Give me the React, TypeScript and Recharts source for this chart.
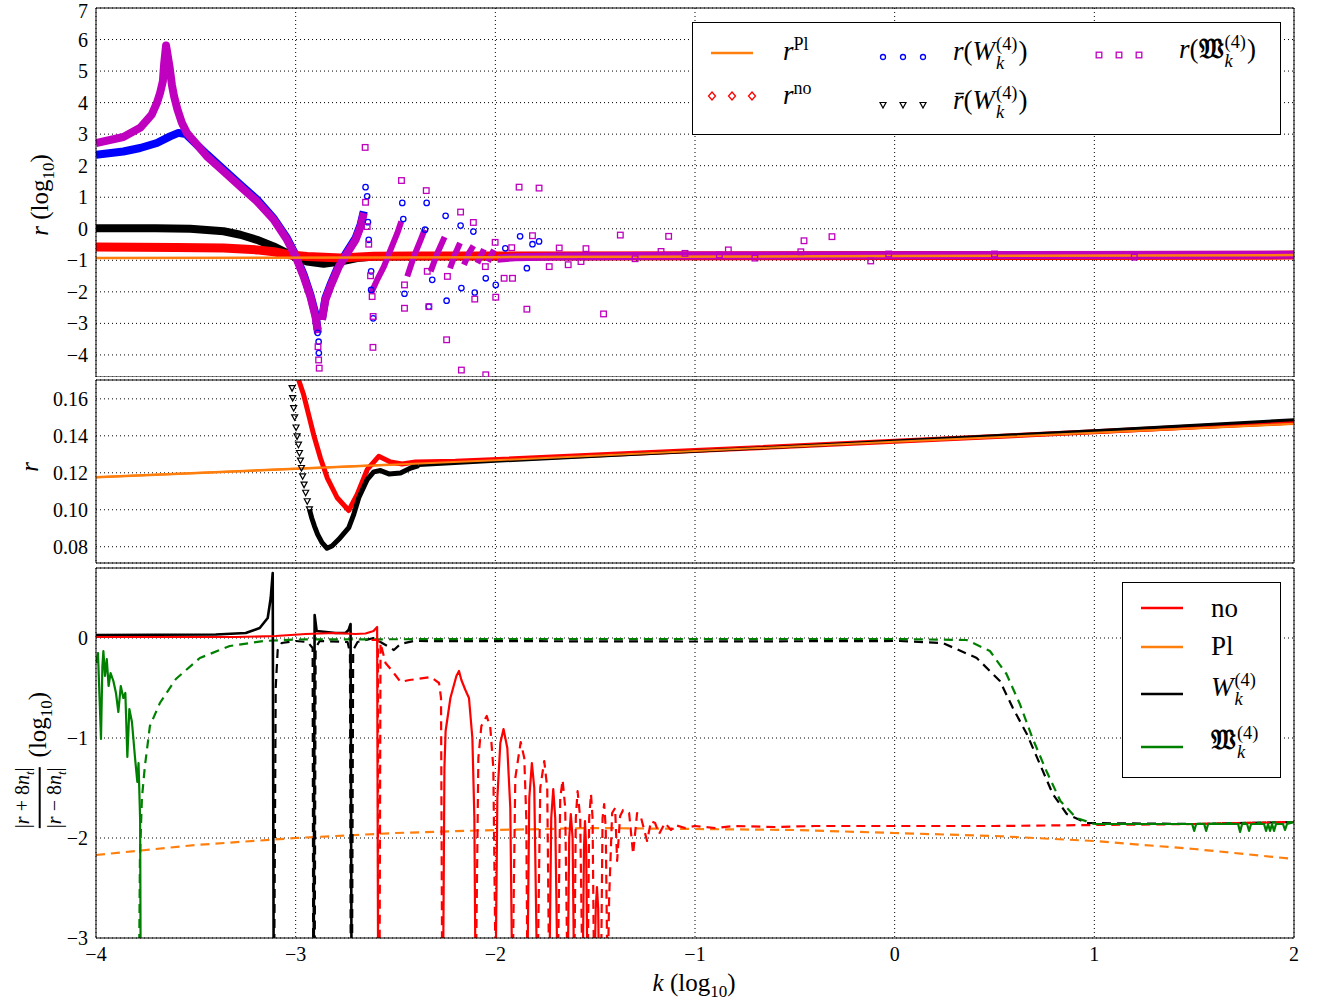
import React from 'react';
import { ComposedChart, Line, Scatter, XAxis, YAxis, CartesianGrid } from 'recharts';

type P = [number, number | null];

// axes
const X_DOMAIN: [number, number] = [-4, 2];
const X_MAJOR = [-4, -3, -2, -1, 0, 1, 2];
const DECADES = [-4, -3, -2, -1, 0, 1];
const LOG_STEPS = [0.301, 0.477, 0.602, 0.699, 0.778, 0.845, 0.903, 0.954];
const X_MINOR = DECADES.flatMap((d) => LOG_STEPS.map((s) => d + s));

const Y1_TICKS = [-4, -3, -2, -1, 0, 1, 2, 3, 4, 5, 6, 7];
const Y2_TICKS = [0.08, 0.1, 0.12, 0.14, 0.16];
const Y3_TICKS = [-3, -2, -1, 0];
const Y3_MINOR = [0, -1, -2].flatMap((m) => LOG_STEPS.map((s) => m - s));

// ---- panel 1 : r (log10)
const p1Orange: P[] = [[-4, -0.93], [-2, -0.9], [0, -0.865], [2, -0.834]];
const p1Red: P[] = [
  [-4, -0.58], [-3.6, -0.59], [-3.361, -0.61], [-3.194, -0.67], [-3.11, -0.73], [-3.027, -0.83],
  [-2.943, -0.88], [-2.776, -0.93], [-2.609, -0.87], [-2.4, -0.86], [-2, -0.865], [0, -0.85], [2, -0.835],
];
const p1Black: P[] = [
  [-4, 0.02], [-3.7, 0.02], [-3.528, 0.0], [-3.361, -0.08], [-3.277, -0.19], [-3.194, -0.35], [-3.11, -0.56],
  [-3.043, -0.77], [-3.0, -0.9], [-2.943, -1.04], [-2.86, -1.11], [-2.776, -1.04], [-2.692, -0.93],
  [-2.609, -0.88], [-2.3, -0.87], [-2, -0.87], [0, -0.855], [2, -0.83],
];
const p1Blue: P[] = [
  [-4, 2.35], [-3.863, 2.45], [-3.779, 2.56], [-3.695, 2.72], [-3.629, 2.93], [-3.587, 3.04], [-3.55, 3.0],
  [-3.445, 2.36], [-3.361, 1.88], [-3.277, 1.4], [-3.194, 0.93], [-3.11, 0.33], [-3.043, -0.3], [-3.0, -0.84],
  [-2.96, -1.45], [-2.926, -2.1], [-2.901, -2.7], [-2.89, -3.2], [-2.886, null],
  [-2.868, -2.85], [-2.851, -2.2], [-2.826, -1.78], [-2.784, -1.15], [-2.742, -0.72], [-2.7, -0.3],
  [-2.675, 0.12], [-2.659, 0.55],
];
const p1Magenta: P[] = [
  [-4.0, 2.72], [-3.863, 2.91], [-3.779, 3.2], [-3.721, 3.62], [-3.695, 3.99], [-3.679, 4.31], [-3.665, 4.68],
  [-3.659, 5.21], [-3.649, 5.81], [-3.632, 5.15], [-3.62, 4.57], [-3.609, 4.2], [-3.592, 3.78], [-3.57, 3.36],
  [-3.545, 3.04], [-3.445, 2.3], [-3.361, 1.82], [-3.277, 1.34], [-3.194, 0.87], [-3.11, 0.29], [-3.043, -0.35],
  [-3.0, -0.88], [-2.96, -1.51], [-2.926, -2.15], [-2.901, -2.78], [-2.888, -3.31], [-2.885, null],
  [-2.868, -2.89], [-2.851, -2.25], [-2.826, -1.83], [-2.784, -1.2], [-2.742, -0.77], [-2.7, -0.35],
  [-2.675, 0.07], [-2.659, 0.5],
];
const p1MagentaSaw: P[] = [
  [-2.622, -2.04], [-2.592, -1.62], [-2.558, -1.2], [-2.525, -0.67], [-2.491, -0.14], [-2.471, 0.23], [-2.46, null],
  [-2.441, -1.51], [-2.408, -0.88], [-2.374, -0.35], [-2.354, -0.03], [-2.345, null],
  [-2.324, -1.35], [-2.29, -0.77], [-2.254, -0.26], [-2.24, null],
  [-2.227, -1.25], [-2.199, -0.77], [-2.177, -0.45], [-2.165, null],
  [-2.157, -1.14], [-2.132, -0.77], [-2.11, -0.54], [-2.1, null],
  [-2.09, -1.09], [-2.057, -0.65], [-2.045, null],
  [-2.037, -1.04], [-2.007, -0.67],
];
const p1MagentaTail: P[] = [
  [-1.99, -0.95], [-1.9, -0.9], [-1.7, -0.88], [-1.5, -0.87], [-1, -0.85], [0, -0.84], [1, -0.83], [2, -0.82],
];
const p1MagentaPts: P[] = [
  [-2.888, -3.74], [-2.885, -4.16], [-2.882, -4.42], [-2.652, 2.58], [-2.65, 0.84], [-2.642, 0.07],
  [-2.634, -0.49], [-2.625, -1.49], [-2.617, -2.15], [-2.612, -2.78], [-2.613, -3.76], [-2.47, 1.53],
  [-2.455, -1.78], [-2.455, -2.52], [-2.346, 1.21], [-2.341, -1.35], [-2.333, -2.47], [-2.244, -3.52],
  [-2.24, -1.51], [-2.174, 0.53], [-2.17, -4.48], [-2.11, 0.2], [-2.103, -2.23], [-2.048, -4.63],
  [-2.001, -0.43], [-1.998, -2.17], [-1.956, -1.57], [-1.914, -1.57], [-1.881, 1.32], [-1.781, 1.29],
  [-1.814, -0.22], [-1.842, -2.55], [-1.458, -2.7], [-1.374, -0.2], [-1.132, -0.24], [-0.454, -0.38],
  [-0.314, -0.25], [-0.12, -1.02], [-1.73, -1.2], [-1.635, -1.14], [-1.571, -1.04], [-0.833, -0.67],
  [-1.17, -0.72], [-1.68, -0.61], [-1.546, -0.63], [-2.05, -1.2], [-1.918, -0.6], [-0.878, -0.83],
  [-0.47, -0.73], [-0.03, -0.8], [-1.3, -0.95], [-1.05, -0.78], [-0.7, -0.93], [0.5, -0.8], [1.2, -0.9],
];
const p1BluePts: P[] = [
  [-2.89, -3.3], [-2.885, -3.58], [-2.884, -3.94], [-2.65, 1.32], [-2.642, 1.03], [-2.638, 0.21],
  [-2.634, -0.35], [-2.622, -1.35], [-2.622, -1.94], [-2.612, -2.84], [-2.466, 0.82], [-2.461, 0.31],
  [-2.455, -2.06], [-2.344, 0.82], [-2.352, -0.03], [-2.333, -2.47], [-2.316, -1.62], [-2.249, 0.41],
  [-2.244, -2.28], [-2.174, 0.1], [-2.17, -1.88], [-2.11, -0.09], [-2.103, -2.02], [-2.048, -1.57],
  [-1.998, -1.78], [-1.876, -0.24], [-1.814, -0.49], [-1.781, -0.4], [-1.842, -1.25], [-1.95, -0.62],
];

// ---- panel 2 : r
const p2Orange: P[] = [[-4, 0.1176], [-3, 0.1222], [-2, 0.1268], [-1, 0.1318], [0, 0.1368], [1, 0.1416], [2, 0.1466]];
const p2Red: P[] = [
  [-2.985, 0.1702], [-2.96, 0.1622], [-2.935, 0.1514], [-2.91, 0.1406], [-2.876, 0.128], [-2.842, 0.1173],
  [-2.792, 0.1065], [-2.734, 0.0996], [-2.692, 0.1083], [-2.642, 0.1217], [-2.584, 0.1289], [-2.525, 0.1259],
  [-2.467, 0.1248], [-2.4, 0.1259], [-2.2, 0.1262], [-1, 0.132], [0, 0.137], [1, 0.1422], [2, 0.1475],
];
const p2BlackPts: P[] = [
  [-3.018, 0.1658], [-3.015, 0.1604], [-3.01, 0.155], [-3.005, 0.15], [-2.998, 0.1445], [-2.993, 0.1397],
  [-2.986, 0.1352], [-2.981, 0.1307], [-2.976, 0.1266], [-2.971, 0.1226], [-2.965, 0.1181], [-2.958, 0.1136],
  [-2.95, 0.1092], [-2.942, 0.1046], [-2.931, 0.1002],
];
const p2Black: P[] = [
  [-2.931, 0.1002], [-2.92, 0.0957], [-2.906, 0.0912], [-2.89, 0.0867], [-2.868, 0.0822], [-2.843, 0.0792],
  [-2.818, 0.0804], [-2.784, 0.084], [-2.734, 0.0903], [-2.709, 0.0975], [-2.684, 0.1065], [-2.642, 0.1163],
  [-2.609, 0.1205], [-2.575, 0.1212], [-2.533, 0.1194], [-2.475, 0.1199], [-2.424, 0.1226], [-2.383, 0.1239],
];
const p2BlackTail: P[] = [[-2.383, 0.1239], [-2.0, 0.1262], [-1, 0.1316], [0, 0.1372], [1, 0.1428], [2, 0.1487]];

// ---- panel 3 : |r+8nt|/|r-8nt| (log10)
const p3PlDash: P[] = [
  [-4, -2.17], [-3.5, -2.07], [-3, -2.0], [-2.5, -1.95], [-2, -1.92], [-1.5, -1.9], [-1, -1.91],
  [-0.5, -1.92], [0, -1.95], [0.5, -1.98], [1, -2.03], [1.5, -2.11], [2, -2.21],
];
const p3NoSolid: P[] = [
  [-4, 0.01], [-3.3, 0.01], [-3.1, 0.02], [-2.95, 0.04], [-2.8, 0.05], [-2.7, 0.04], [-2.65, 0.045],
  [-2.61, 0.07], [-2.592, 0.11], [-2.587, -3.5], [-2.4, null],
  [-2.262, -3.5], [-2.255, -1.3], [-2.249, -0.93], [-2.225, -0.6], [-2.195, -0.38], [-2.182, -0.33],
  [-2.17, -0.42], [-2.15, -0.52], [-2.132, -0.6], [-2.115, -1.0], [-2.105, -1.8], [-2.099, -3.5], [-2.05, null],
  [-1.999, -3.5], [-1.99, -1.6], [-1.975, -1.05], [-1.959, -0.91], [-1.94, -1.1], [-1.925, -1.7], [-1.915, -3.5], [-1.88, null],
  [-1.84, -3.5], [-1.83, -1.6], [-1.817, -1.25], [-1.805, -1.5], [-1.79, -3.5], [-1.76, null],
  [-1.73, -3.5], [-1.72, -1.8], [-1.71, -1.51], [-1.7, -1.8], [-1.688, -3.5], [-1.66, null],
  [-1.638, -3.5], [-1.63, -2.0], [-1.622, -1.76], [-1.613, -2.0], [-1.605, -3.5], [-1.58, null],
  [-1.563, -3.5], [-1.556, -2.1], [-1.551, -1.83], [-1.545, -2.1], [-1.538, -3.5], [-1.52, null],
  [-1.505, -3.5], [-1.497, -2.7], [-1.491, -2.49], [-1.485, -2.7], [-1.48, -3.5],
];
const p3NoDash: P[] = [
  [-2.62, -0.02], [-2.588, -0.02], [-2.587, -3.5], [-2.58, -3.5], [-2.575, -0.05], [-2.55, -0.25],
  [-2.516, -0.33], [-2.475, -0.44], [-2.43, -0.42], [-2.391, -0.41], [-2.324, -0.39], [-2.282, -0.45],
  [-2.272, -0.6], [-2.266, -3.5], [-2.2, null],
  [-2.098, -3.5], [-2.085, -1.2], [-2.07, -0.88], [-2.043, -0.78], [-2.025, -0.9], [-2.01, -1.3], [-1.998, -3.5], [-1.95, null],
  [-1.914, -3.5], [-1.9, -1.4], [-1.873, -1.04], [-1.855, -1.2], [-1.845, -1.8], [-1.839, -3.5], [-1.81, null],
  [-1.789, -3.5], [-1.775, -1.5], [-1.755, -1.23], [-1.74, -1.5], [-1.73, -3.5], [-1.71, null],
  [-1.688, -3.5], [-1.675, -1.6], [-1.663, -1.42], [-1.65, -1.7], [-1.638, -3.5], [-1.62, null],
  [-1.605, -3.5], [-1.597, -1.8], [-1.588, -1.53], [-1.575, -1.8], [-1.563, -3.5], [-1.55, null],
  [-1.538, -3.5], [-1.53, -1.8], [-1.521, -1.56], [-1.513, -1.8], [-1.505, -3.5], [-1.49, null],
  [-1.471, -3.5], [-1.463, -1.8], [-1.455, -1.66], [-1.447, -1.9], [-1.438, -3.5], [-1.43, -2.6],
  [-1.415, -1.75], [-1.4, -1.7], [-1.39, -2.23], [-1.375, -1.78], [-1.36, -1.72], [-1.33, -1.75],
  [-1.31, -2.16], [-1.29, -1.75], [-1.27, -1.8], [-1.24, -2.03], [-1.22, -1.83], [-1.2, -1.85],
  [-1.18, -1.96], [-1.15, -1.85], [-1.12, -1.92], [-1.1, -1.87], [-1.05, -1.9], [-1.0, -1.88],
  [-0.9, -1.9], [-0.8, -1.88], [-0.6, -1.89], [-0.4, -1.88], [0, -1.88], [0.5, -1.88], [1, -1.87],
  [1.5, -1.86], [2, -1.84],
];
const p3WSolid: P[] = [
  [-4, 0.03], [-3.4, 0.035], [-3.25, 0.05], [-3.18, 0.1], [-3.14, 0.2], [-3.125, 0.4], [-3.115, 0.65],
  [-3.11, -3.5], [-3.0, null],
  [-2.91, -3.5], [-2.905, 0.23], [-2.895, 0.07], [-2.8, 0.05], [-2.75, 0.05], [-2.735, 0.08],
  [-2.725, 0.14], [-2.72, -3.5],
];
const p3WDash: P[] = [
  [-3.108, -3.5], [-3.1, -0.5], [-3.09, -0.12], [-3.07, -0.05], [-3.0, -0.03], [-2.94, -0.04],
  [-2.915, -0.1], [-2.912, -3.5], [-2.905, -3.5], [-2.9, -0.1], [-2.88, -0.03], [-2.74, -0.04],
  [-2.728, -0.15], [-2.724, -3.5], [-2.718, -3.5], [-2.712, -0.12], [-2.69, -0.04], [-2.609, 0.0],
  [-2.541, -0.08], [-2.508, -0.12], [-2.475, -0.06], [-2.41, -0.03], [-1, -0.035], [0.026, -0.03],
  [0.241, -0.05], [0.411, -0.2], [0.527, -0.43], [0.592, -0.7], [0.662, -0.96], [0.727, -1.26],
  [0.792, -1.56], [0.862, -1.76], [0.962, -1.85], [1.5, -1.86], [2, -1.84],
];
const p3GDash: P[] = [
  [-3.785, -3.5], [-3.78, -2.2], [-3.77, -1.6], [-3.755, -1.28], [-3.73, -0.88], [-3.68, -0.65],
  [-3.6, -0.41], [-3.48, -0.2], [-3.33, -0.08], [-3.16, -0.03], [-3.0, -0.015], [-2, -0.01], [-1, -0.01],
  [0, -0.01], [0.36, -0.02], [0.477, -0.13], [0.56, -0.36], [0.627, -0.66], [0.69, -1.0], [0.76, -1.33],
  [0.83, -1.63], [0.91, -1.8], [1.0, -1.86], [1.5, -1.86], [2, -1.84],
];
const p3GSolid: P[] = [
  [-4.0, -0.25], [-3.99, -0.15], [-3.982, -0.61], [-3.975, -1.01], [-3.968, -0.28], [-3.963, -0.13],
  [-3.955, -0.38], [-3.946, -0.21], [-3.937, -0.48], [-3.927, -0.35], [-3.913, -0.43], [-3.9, -0.55],
  [-3.888, -0.74], [-3.876, -0.48], [-3.863, -0.6], [-3.853, -0.55], [-3.843, -1.19], [-3.833, -0.71],
  [-3.82, -0.84], [-3.804, -1.21], [-3.793, -1.44], [-3.787, -1.25], [-3.779, -1.81], [-3.776, -3.5],
  [0, null],
  [1.0, -1.86], [1.49, -1.86], [1.5, -1.93], [1.51, -1.86], [1.55, -1.86], [1.56, -1.93], [1.57, -1.86],
  [1.72, -1.86], [1.73, -1.94], [1.74, -1.86], [1.765, -1.86], [1.775, -1.93], [1.785, -1.86],
  [1.85, -1.86], [1.86, -1.93], [1.87, -1.86], [1.88, -1.93], [1.89, -1.86], [1.9, -1.93], [1.91, -1.86],
  [1.945, -1.86], [1.955, -1.92], [1.965, -1.86], [2, -1.84],
];

const ORANGE = '#ff7f0e';
const RED = '#ff0000';
const BLUE = '#0000ff';
const MAGENTA = '#bf00bf';
const GREEN = '#008000';
const FONT = '"Liberation Serif", "DejaVu Serif", serif';
const MATHFONT = '"DejaVu Serif", "DejaVu Sans", "Noto Sans", serif';

const pts = (a: P[]) => a.map(([x, y]) => ({ x, y }));
const fmt = (v: number) => (v < 0 ? '\u2212' + Math.abs(v) : String(v));
const tickStyle = { fontSize: 20, fill: '#000', fontFamily: FONT };

// y tick label that never leaves the top of the page
const TopSafeTick = (p: any) => (
  <text x={p.x} y={Math.max(p.y, 21)} dy="0.35em" textAnchor="end" fontSize={20} fill="#000" fontFamily={FONT}>
    {fmt(p.payload.value)}
  </text>
);

const Square = (p: any) => (
  <rect x={p.cx - 2.8} y={p.cy - 2.8} width={5.6} height={5.6} fill="none" stroke={MAGENTA} strokeWidth={1.3} />
);
const Ring = (p: any) => <circle cx={p.cx} cy={p.cy} r={2.7} fill="none" stroke={BLUE} strokeWidth={1.3} />;
const Tri = (p: any) => (
  <polygon
    points={`${p.cx - 3},${p.cy - 2.5} ${p.cx + 3},${p.cy - 2.5} ${p.cx},${p.cy + 3}`}
    fill="none"
    stroke="#000"
    strokeWidth={1.2}
  />
);

function frameAxes(yDomain: [number, number], yMajor: number[], yMinor: number[]) {
  const xc = { type: 'number' as const, dataKey: 'x', domain: X_DOMAIN, allowDataOverflow: true, stroke: '#000', tick: false, mirror: true, height: 1, interval: 0 as const };
  const yc = { type: 'number' as const, dataKey: 'y', domain: yDomain, allowDataOverflow: true, stroke: '#000', tick: false, mirror: true, width: 1, interval: 0 as const };
  return [
    <XAxis key="xb1" xAxisId="xb1" orientation="bottom" ticks={X_MAJOR} tickSize={8} {...xc} />,
    <XAxis key="xb2" xAxisId="xb2" orientation="bottom" ticks={X_MINOR} tickSize={4} axisLine={false} {...xc} />,
    <XAxis key="xt1" xAxisId="xt1" orientation="top" ticks={X_MAJOR} tickSize={8} {...xc} />,
    <XAxis key="xt2" xAxisId="xt2" orientation="top" ticks={X_MINOR} tickSize={4} axisLine={false} {...xc} />,
    <YAxis key="yl1" yAxisId="yl1" orientation="left" ticks={yMajor} tickSize={8} {...yc} />,
    <YAxis key="yr1" yAxisId="yr1" orientation="right" ticks={yMajor} tickSize={8} {...yc} />,
    ...(yMinor.length
      ? [
          <YAxis key="yl2" yAxisId="yl2" orientation="left" ticks={yMinor} tickSize={4} axisLine={false} {...yc} />,
          <YAxis key="yr2" yAxisId="yr2" orientation="right" ticks={yMinor} tickSize={4} axisLine={false} {...yc} />,
        ]
      : []),
  ];
}

const grid = <CartesianGrid stroke="#000" strokeDasharray="1 3" strokeWidth={1} />;

const lineBase = { type: 'linear' as const, dataKey: 'y', dot: false, activeDot: false, isAnimationActive: false, strokeLinejoin: 'round' as const, connectNulls: false };

const SupSub = ({ sup, sub }: { sup: React.ReactNode; sub: React.ReactNode }) => (
  <span style={{ display: 'inline-flex', flexDirection: 'column', verticalAlign: 'middle', fontSize: '0.68em', lineHeight: 1.05, margin: '0 1px' }}>
    <span style={{ fontStyle: 'normal' }}>{sup}</span>
    <span style={{ fontStyle: 'italic' }}>{sub}</span>
  </span>
);

const Wk = () => (
  <span>
    <i>W</i>
    <SupSub sup="(4)" sub="k" />
  </span>
);
const FrakW = () => (
  <span>
    <span style={{ fontFamily: MATHFONT, fontWeight: 'bold' }}>{'\u{1D51A}'}</span>
    <SupSub sup="(4)" sub="k" />
  </span>
);

const abs = (style: React.CSSProperties): React.CSSProperties => ({ position: 'absolute', ...style });

function Legend1() {
  const t = { fontSize: 27, fontFamily: FONT, lineHeight: 1, whiteSpace: 'nowrap' as const };
  return (
    <div style={abs({ left: 692, top: 22, width: 587, height: 111, border: '1px solid #000', background: '#fff' })}>
      <svg style={abs({ left: 0, top: 0 })} width={587} height={111}>
        <line x1={18} x2={60} y1={30} y2={30} stroke={ORANGE} strokeWidth={2.5} />
        {[19, 39, 59].map((x) => (
          <polygon key={x} points={`${x},${69} ${x + 3.5},${73} ${x},${77} ${x - 3.5},${73}`} fill="none" stroke={RED} strokeWidth={1.3} />
        ))}
        {[190, 210, 230].map((x) => (
          <circle key={x} cx={x} cy={34} r={2.5} fill="none" stroke={BLUE} strokeWidth={1.3} />
        ))}
        {[190, 210, 230].map((x) => (
          <polygon key={x} points={`${x - 3},${79.5} ${x + 3},${79.5} ${x},${85}`} fill="none" stroke="#000" strokeWidth={1.2} />
        ))}
        {[406, 426, 446].map((x) => (
          <rect key={x} x={x - 2.8} y={29.2} width={5.6} height={5.6} fill="none" stroke={MAGENTA} strokeWidth={1.3} />
        ))}
      </svg>
      <div style={abs({ ...t, left: 90, top: 12 })}>
        <i>r</i>
        <sup style={{ fontSize: 18 }}>Pl</sup>
      </div>
      <div style={abs({ ...t, left: 90, top: 56 })}>
        <i>r</i>
        <sup style={{ fontSize: 18 }}>no</sup>
      </div>
      <div style={abs({ ...t, left: 260, top: 12 })}>
        <i>r</i>(<Wk />)
      </div>
      <div style={abs({ ...t, left: 260, top: 61 })}>
        <i>r&#772;</i>(<Wk />)
      </div>
      <div style={abs({ ...t, left: 486, top: 10 })}>
        <i>r</i>(<FrakW />)
      </div>
    </div>
  );
}

function Legend3() {
  const t = { fontSize: 27, fontFamily: FONT, lineHeight: 1, whiteSpace: 'nowrap' as const };
  const rows: [string, number][] = [[RED, 25], [ORANGE, 64], ['#000', 111], [GREEN, 164]];
  return (
    <div style={abs({ left: 1122, top: 582, width: 157, height: 194, border: '1px solid #000', background: '#fff' })}>
      <svg style={abs({ left: 0, top: 0 })} width={157} height={194}>
        {rows.map(([c, y]) => (
          <line key={y} x1={18} x2={60} y1={y} y2={y} stroke={c} strokeWidth={2.5} />
        ))}
      </svg>
      <div style={abs({ ...t, left: 88, top: 12 })}>no</div>
      <div style={abs({ ...t, left: 88, top: 50 })}>Pl</div>
      <div style={abs({ ...t, left: 88, top: 88 })}>
        <Wk />
      </div>
      <div style={abs({ ...t, left: 88, top: 141 })}>
        <FrakW />
      </div>
    </div>
  );
}

export default function App() {
  const W = 1321;
  const margin = (top: number, bottom: number) => ({ top, bottom, left: 0, right: 27 });
  const yLabel = (v: number) => (Math.abs(v) < 1 ? v.toFixed(2) : fmt(v));
  return (
    <div style={{ position: 'absolute', left: 0, top: 0, width: W, height: 1006, background: '#fff', fontFamily: FONT, overflow: 'hidden' }}>
      <style>{`svg text { font-family: "Liberation Serif", "DejaVu Serif", serif; }`}</style>
      {/* panel 1 */}
      <div style={abs({ left: 0, top: -10 })}>
        <ComposedChart width={W} height={387} margin={margin(18, 0)}>
          <XAxis type="number" dataKey="x" domain={X_DOMAIN} allowDataOverflow ticks={X_MAJOR} hide />
          <YAxis type="number" dataKey="y" domain={[-4.7, 7]} allowDataOverflow ticks={Y1_TICKS} interval={0} width={96}
            tickLine={false} axisLine={false} tickSize={0} tickMargin={8} tick={TopSafeTick} />
          {grid}
          {frameAxes([-4.7, 7], Y1_TICKS, [])}
          <Line {...lineBase} data={pts(p1Blue)} stroke={BLUE} strokeWidth={8} />
          <Line {...lineBase} data={pts(p1Black)} stroke="#000" strokeWidth={8} />
          <Line {...lineBase} data={pts(p1Red)} stroke={RED} strokeWidth={9} />
          <Line {...lineBase} data={pts(p1Magenta)} stroke={MAGENTA} strokeWidth={8} />
          <Line {...lineBase} data={pts(p1MagentaSaw)} stroke={MAGENTA} strokeWidth={6} />
          <Line {...lineBase} data={pts(p1MagentaTail)} stroke={MAGENTA} strokeWidth={8} />
          <Line {...lineBase} data={pts(p1Orange)} stroke={ORANGE} strokeWidth={2.5} />
          <Scatter data={pts(p1BluePts)} shape={Ring} isAnimationActive={false} />
          <Scatter data={pts(p1MagentaPts)} shape={Square} isAnimationActive={false} />
        </ComposedChart>
      </div>
      {/* panel 2 */}
      <div style={abs({ left: 0, top: 370 })}>
        <ComposedChart width={W} height={203} margin={margin(10, 10)}>
          <XAxis type="number" dataKey="x" domain={X_DOMAIN} allowDataOverflow ticks={X_MAJOR} hide />
          <YAxis type="number" dataKey="y" domain={[0.0712, 0.1702]} allowDataOverflow ticks={Y2_TICKS} interval={0} width={96}
            tickLine={false} axisLine={false} tickSize={0} tickMargin={8} tick={tickStyle} tickFormatter={yLabel} />
          {grid}
          {frameAxes([0.0712, 0.1702], Y2_TICKS, [])}
          <Line {...lineBase} data={pts(p2Orange)} stroke={ORANGE} strokeWidth={2.5} />
          <Line {...lineBase} data={pts(p2Red)} stroke={RED} strokeWidth={5} />
          <Line {...lineBase} data={pts(p2Black)} stroke="#000" strokeWidth={5} />
          <Line {...lineBase} data={pts(p2BlackTail)} stroke="#000" strokeWidth={3} />
          <Line {...lineBase} data={pts(p2Orange)} stroke={ORANGE} strokeWidth={2} />
          <Scatter data={pts(p2BlackPts)} shape={Tri} isAnimationActive={false} />
        </ComposedChart>
      </div>
      {/* panel 3 */}
      <div style={abs({ left: 0, top: 558 })}>
        <ComposedChart width={W} height={430} margin={margin(10, 0)}>
          <XAxis type="number" dataKey="x" domain={X_DOMAIN} allowDataOverflow ticks={X_MAJOR} interval={0} height={50}
            tickLine={false} axisLine={false} tickSize={0} tickMargin={9} tick={tickStyle} tickFormatter={fmt} />
          <YAxis type="number" dataKey="y" domain={[-3, 0.7]} allowDataOverflow ticks={Y3_TICKS} interval={0} width={96}
            tickLine={false} axisLine={false} tickSize={0} tickMargin={8} tick={tickStyle} tickFormatter={fmt} />
          {grid}
          {frameAxes([-3, 0.7], Y3_TICKS, Y3_MINOR)}
          <Line {...lineBase} data={pts(p3PlDash)} stroke={ORANGE} strokeWidth={2.2} strokeDasharray="9 6" />
          <Line {...lineBase} data={pts(p3WDash)} stroke="#000" strokeWidth={2.2} strokeDasharray="9 6" />
          <Line {...lineBase} data={pts(p3GDash)} stroke={GREEN} strokeWidth={2.2} strokeDasharray="9 6" />
          <Line {...lineBase} data={pts(p3NoDash)} stroke={RED} strokeWidth={2.2} strokeDasharray="9 6" />
          <Line {...lineBase} data={pts(p3WSolid)} stroke="#000" strokeWidth={2.6} />
          <Line {...lineBase} data={pts(p3NoSolid)} stroke={RED} strokeWidth={2.2} />
          <Line {...lineBase} data={pts(p3GSolid)} stroke={GREEN} strokeWidth={2.2} />
        </ComposedChart>
      </div>

      <Legend1 />
      <Legend3 />

      {/* axis labels */}
      <div style={abs({ left: 42, top: 195, transform: 'translate(-50%, -50%) rotate(-90deg)', fontSize: 25, whiteSpace: 'nowrap' })}>
        <i>r</i> (log<sub style={{ fontSize: 17 }}>10</sub>)
      </div>
      <div style={abs({ left: 30, top: 467, transform: 'translate(-50%, -50%) rotate(-90deg)', fontSize: 25 })}>
        <i>r</i>
      </div>
      <div style={abs({ left: 40, top: 760, transform: 'translate(-50%, -50%) rotate(-90deg)', fontSize: 25, whiteSpace: 'nowrap', display: 'flex', alignItems: 'center' })}>
        <span style={{ display: 'inline-flex', flexDirection: 'column', alignItems: 'center', fontSize: 20, marginRight: 10, lineHeight: 1.1 }}>
          <span>|<i>r</i> + 8<i>n</i><sub style={{ fontSize: 13 }}><i>t</i></sub>|</span>
          <span style={{ borderTop: '2px solid #000', width: '100%', height: 0, margin: '2px 0' }} />
          <span>|<i>r</i> &#8722; 8<i>n</i><sub style={{ fontSize: 13 }}><i>t</i></sub>|</span>
        </span>
        <span>
          (log<sub style={{ fontSize: 17 }}>10</sub>)
        </span>
      </div>
      <div style={abs({ left: 694, top: 985, transform: 'translate(-50%, -50%)', fontSize: 25, whiteSpace: 'nowrap' })}>
        <i>k</i> (log<sub style={{ fontSize: 17 }}>10</sub>)
      </div>
    </div>
  );
}
